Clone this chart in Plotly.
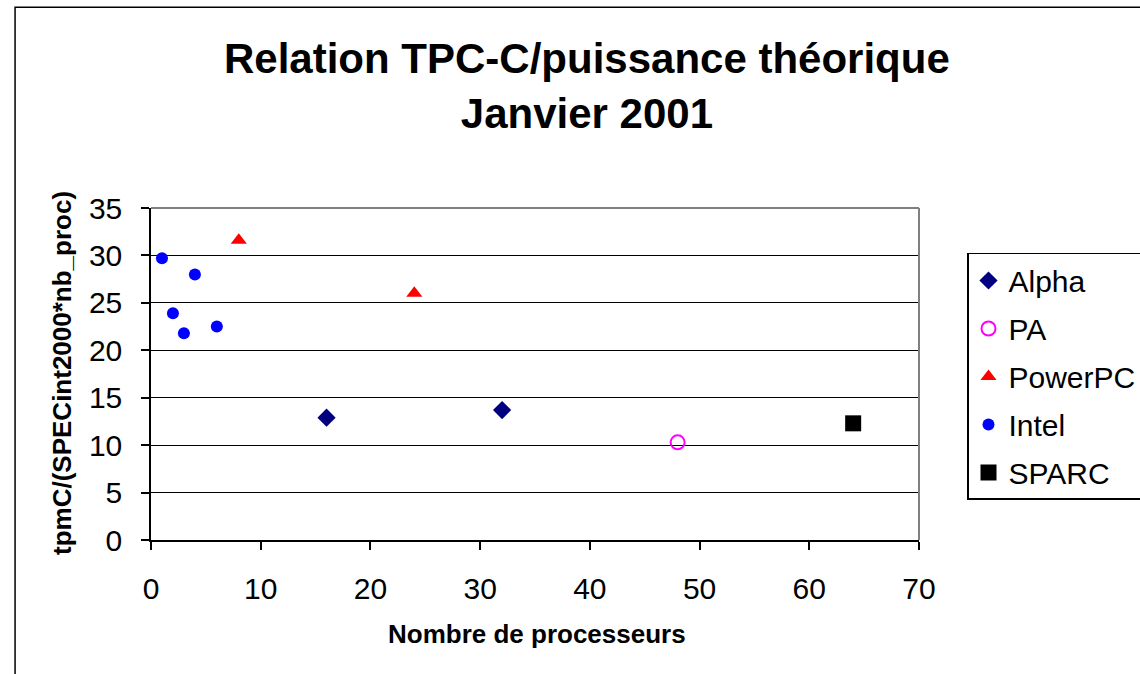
import plotly.graph_objects as go

# ---- data ----
alpha_x = [16, 32]
alpha_y = [12.9, 13.7]
pa_x = [48]
pa_y = [10.3]
ppc_x = [8, 24]
ppc_y = [31.6, 26.0]
intel_x = [1, 2, 3, 4, 6]
intel_y = [29.7, 23.9, 21.8, 28.0, 22.5]
sparc_x = [64]
sparc_y = [12.3]

x_ticks = [0, 10, 20, 30, 40, 50, 60, 70]
y_ticks = [0, 5, 10, 15, 20, 25, 30, 35]

title_text = "<b>Relation TPC-C/puissance théorique<br>Janvier 2001</b>"
x_title = "<b>Nombre de processeurs</b>"
y_title = "<b>tpmC/(SPECint2000*nb_proc)</b>"

FONT = "Liberation Sans, Arial, sans-serif"

fig = go.Figure()
fig.add_trace(go.Scatter(x=alpha_x, y=alpha_y, mode="markers", name="Alpha", legendgroup="a",
                         marker=dict(symbol="diamond", size=14, color="#000080")))
fig.add_trace(go.Scatter(x=pa_x, y=pa_y, mode="markers", name="PA", legendgroup="b",
                         marker=dict(symbol="circle-open", size=14, color="#FF00FF",
                                     line=dict(width=2, color="#FF00FF"))))
fig.add_trace(go.Scatter(x=ppc_x, y=ppc_y, mode="markers", name="PowerPC", legendgroup="c",
                         marker=dict(symbol="triangle-up", size=14, color="#FF0000")))
fig.add_trace(go.Scatter(x=intel_x, y=intel_y, mode="markers", name="Intel", legendgroup="d",
                         marker=dict(symbol="circle", size=12, color="#0000FF")))
fig.add_trace(go.Scatter(x=sparc_x, y=sparc_y, mode="markers", name="SPARC", legendgroup="e",
                         marker=dict(symbol="square", size=16, color="#000000")))

fig.update_layout(
    width=1140, height=674,
    margin=dict(l=151, r=221, t=208, b=134, autoexpand=False),
    paper_bgcolor="white", plot_bgcolor="white",
    font=dict(family=FONT, color="black"),
    showlegend=True,
    legend=dict(x=1.0625, y=0.8645, xanchor="left", yanchor="top",
                bordercolor="black", borderwidth=1.5, bgcolor="white",
                font=dict(size=30, family=FONT), tracegroupgap=6,
                itemclick=False),
    xaxis=dict(range=[0, 70], tickvals=x_ticks, showgrid=False, zeroline=False,
               showline=True, linecolor="black", linewidth=1.5,
               ticks="outside", ticklen=8, tickcolor="black", tickwidth=1.5,
               tickfont=dict(size=30), ticklabelstandoff=13),
    yaxis=dict(range=[0, 35], tickvals=y_ticks, showgrid=True, gridcolor="black", gridwidth=1.2,
               zeroline=False, showline=True, linecolor="black", linewidth=1.5,
               ticks="outside", ticklen=8, tickcolor="black", tickwidth=1.5,
               tickfont=dict(size=30), ticklabelstandoff=13),
)

# gray top/right borders of plot area
fig.add_shape(type="line", xref="paper", yref="paper", x0=0, x1=1, y0=1, y1=1,
              line=dict(color="#808080", width=2), layer="above")
fig.add_shape(type="line", xref="paper", yref="paper", x0=1, x1=1, y0=0, y1=1,
              line=dict(color="#808080", width=2), layer="above")
# chart outer border
fig.add_shape(type="rect", xref="paper", yref="paper", x0=-0.177, x1=1.6, y0=-0.7, y1=1.605,
              line=dict(color="black", width=1.5), layer="below")

fig.add_annotation(text=title_text, xref="paper", yref="paper", x=0.568, y=1.366,
                   xanchor="center", yanchor="middle", showarrow=False,
                   font=dict(size=42, family=FONT))
fig.add_annotation(text=x_title, xref="paper", yref="paper", x=0.502, y=-0.283,
                   xanchor="center", yanchor="middle", showarrow=False,
                   font=dict(size=26, family=FONT))
fig.add_annotation(text=y_title, xref="paper", yref="paper", x=-0.1159, y=0.503,
                   xanchor="center", yanchor="middle", showarrow=False, textangle=-90,
                   font=dict(size=26, family=FONT))

fig.write_html("out.html", config={"displayModeBar": False},
               post_script="document.body.style.margin='0';document.body.style.overflow='hidden';")
